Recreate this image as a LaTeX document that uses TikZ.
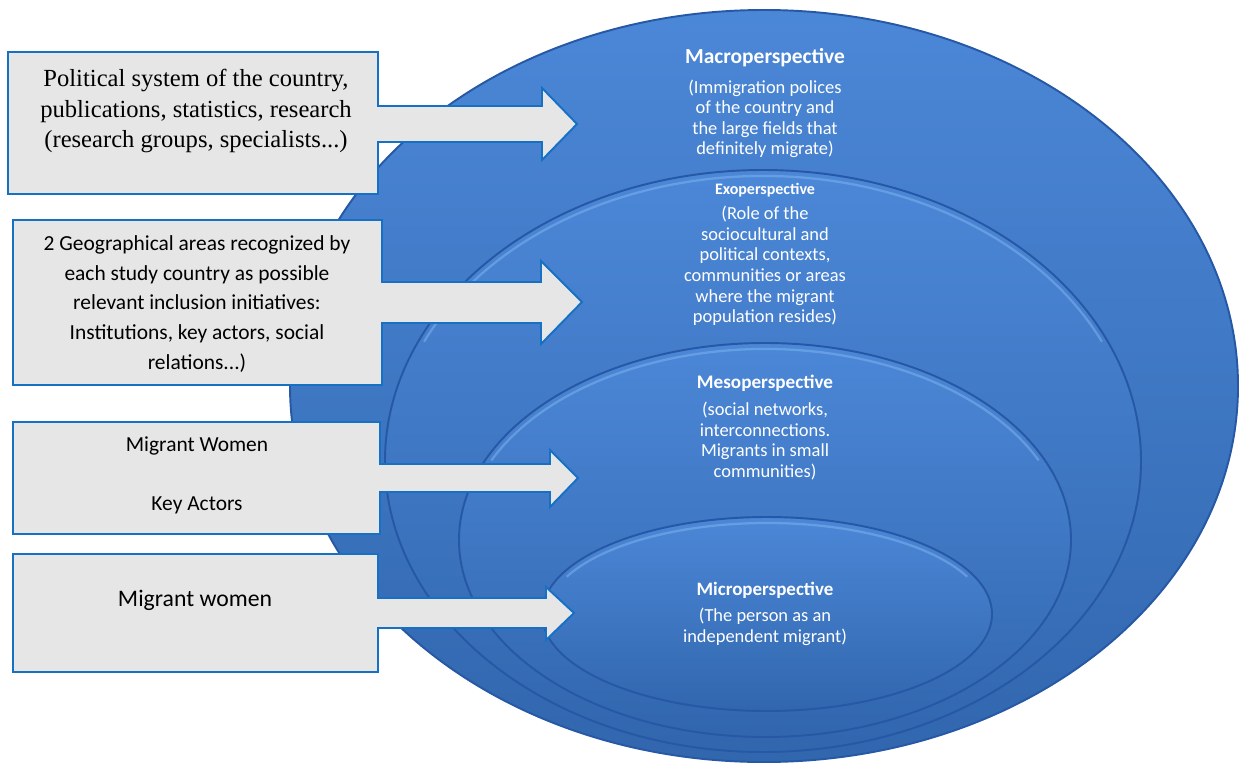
\documentclass[tikz,border=0pt]{standalone}
\usepackage{fontspec}
\setmainfont{Carlito}
\newfontfamily\timesfont{Liberation Serif}
\definecolor{ringblue}{RGB}{60,125,212}
\definecolor{ringdark}{RGB}{38,88,165}
\definecolor{ringlight}{RGB}{125,178,238}
\definecolor{boxgray}{RGB}{230,230,230}
\definecolor{boxblue}{RGB}{22,112,196}
\tikzset{
  ring/.style={top color=ringblue!92!white, bottom color=ringblue!82!black, draw=ringdark, line width=1.1pt},
  rim/.style={draw=ringlight, line width=1.3pt, opacity=0.55},
  callout/.style={fill=boxgray, draw=boxblue, line width=1.1pt, line join=miter},
  boxtext/.style={align=center, font=\fontsize{12.2}{17}\selectfont},
  ringtitle/.style={text=white, font=\bfseries\fontsize{12.2}{14}\selectfont},
  ringtext/.style={text=white, align=center, font=\fontsize{10.5}{11.7}\selectfont}
}
\begin{document}
\begin{tikzpicture}[x=0.02cm,y=-0.02cm]
  \useasboundingbox (0,0) rectangle (1240,767);

  %draw rings, outer first
  \shade[ring] (764,386) ellipse [x radius=474, y radius=376];
  \shade[ring] (763,461) ellipse [x radius=378, y radius=291];
  \draw[rim] (763,463) ++(205:374 and 287) arc[start angle=205, end angle=335, x radius=374, y radius=287];
  \shade[ring] (765,540) ellipse [x radius=306, y radius=197];
  \draw[rim] (765,542) ++(205:302 and 193) arc[start angle=205, end angle=335, x radius=302, y radius=193];
  \shade[ring] (767,614) ellipse [x radius=225, y radius=97];
  \draw[rim] (767,616) ++(205:221 and 93) arc[start angle=205, end angle=335, x radius=221, y radius=93];

  %draw boxes with arrows
  \draw[callout] (8,52) -- (378,52) -- (378,106) -- (542,106) -- (542,88) -- (577,124)
    -- (542,160) -- (542,142) -- (378,142) -- (378,194) -- (8,194) -- cycle;
  \draw[callout] (13,220) -- (382,220) -- (382,282) -- (541,282) -- (541,261) -- (582,302)
    -- (541,344) -- (541,323) -- (382,323) -- (382,385) -- (13,385) -- cycle;
  \draw[callout] (13,422) -- (380,422) -- (380,464) -- (550,464) -- (550,450) -- (578,478)
    -- (550,507) -- (550,492) -- (380,492) -- (380,534) -- (13,534) -- cycle;
  \draw[callout] (13,554) -- (378,554) -- (378,598) -- (546,598) -- (546,587) -- (574,613)
    -- (546,640) -- (546,628) -- (378,628) -- (378,672) -- (13,672) -- cycle;

  %box texts
  \node[boxtext, font=\timesfont\fontsize{14}{17.6}\selectfont] (politics) at (196,111)
    {Political system of the country,\\publications, statistics, research\\(research groups, specialists...)};
  \node[boxtext] (areas) at (197,304)
    {2 Geographical areas recognized by\\each study country as possible\\relevant inclusion initiatives:\\Institutions, key actors, social\\relations...)};
  \node[boxtext] (women) at (197,446) {Migrant Women};
  \node[boxtext] (actors) at (197,505) {Key Actors};
  \node[boxtext, font=\fontsize{13.5}{15}\selectfont] (single) at (195,600) {Migrant women};

  %ring texts
  \node[ringtitle] (macro) at (765,58) {Macroperspective};
  \node[ringtext] (macrotext) at (765,119)
    {(Immigration polices\\of the country and\\the large fields that\\definitely migrate)};
  \node[ringtitle, font=\bfseries\fontsize{9.1}{10}\selectfont] (exo) at (765,190) {Exoperspective};
  \node[ringtext] (exotext) at (765,266)
    {(Role of the\\sociocultural and\\political contexts,\\communities or areas\\where the migrant\\population resides)};
  \node[ringtitle, font=\bfseries\fontsize{10.9}{12}\selectfont] (meso) at (765,383) {Mesoperspective};
  \node[ringtext] (mesotext) at (765,441)
    {(social networks,\\interconnections.\\Migrants in small\\communities)};
  \node[ringtitle, font=\bfseries\fontsize{10.8}{12}\selectfont] (micro) at (765,590) {Microperspective};
  \node[ringtext] (microtext) at (765,627) {(The person as an\\independent migrant)};
\end{tikzpicture}
\end{document}
